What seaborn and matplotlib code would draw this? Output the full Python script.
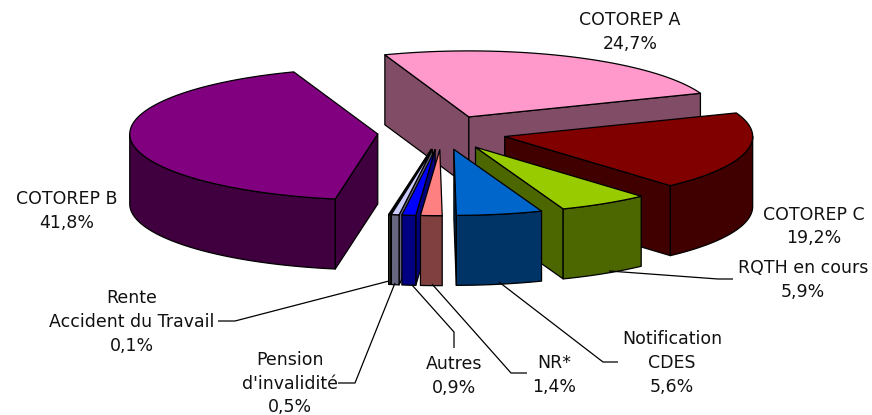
import numpy as np
import matplotlib
matplotlib.use("Agg")
import matplotlib.pyplot as plt
import seaborn as sns

# Data, clockwise from the first slice
categories = ["COTOREP A", "COTOREP C", "RQTH en cours", "Notification\nCDES", "NR*",
              "Autres", "Pension\nd'invalidité", "Rente\nAccident du Travail", "COTOREP B"]
values = [24.7, 19.2, 5.9, 5.6, 1.4, 0.9, 0.5, 0.1, 41.8]
top_colors = ["#FF99CC", "#800000", "#99CC00", "#0066CC", "#FF8080",
              "#0000FF", "#CCCCFF", "#FFFFCC", "#800080"]
side_colors = ["#804C66", "#400000", "#4C6600", "#003366", "#804040",
               "#000080", "#666680", "#808066", "#400040"]
draw_order = [0, 1, 8, 2, 7, 6, 5, 4, 3]

# Pie layout (pixels)
CX, CY = 442, 132.5
A, B = 248, 66
EXPLODE = 0.26
DEPTH = 70
START = -19.8

label_pos = [(630, 32), (814, 226.5), (803, 280), (672, 363), (554, 375),
             (454, 376), (290, 383.5), (132, 322), (67, 211)]
leaders = {
    2: [(609, 271), (718, 279), (733, 279)],
    3: [(499, 282), (603, 362), (618, 362)],
    4: [(432, 284), (511, 373), (527, 373)],
    5: [(412, 285), (454, 332), (454, 348)],
    6: [(395, 283), (355, 383), (338, 383)],
    7: [(389, 281), (235, 321), (218, 321)],
}

sns.set_theme(style="white")
plt.rcParams["font.family"] = ["DejaVu Sans"]

fig = plt.figure(figsize=(8.72, 4.15), dpi=100)
ax = fig.add_axes([0, 0, 1, 1])
ax.set_xlim(0, 872)
ax.set_ylim(415, 0)
ax.axis("off")
sns.despine(ax=ax, left=True, bottom=True)

vals = np.array(values, dtype=float)
edges = START + np.concatenate([[0], np.cumsum(vals)]) * 360.0 / vals.sum()


def rim(ox, oy, deg):
    r = np.radians(deg)
    return ox + A * np.sin(r), oy - B * np.cos(r)


def poly(xs, ys, color):
    ax.fill(xs, ys, facecolor=color, edgecolor="black", lw=0.9, joinstyle="round")


for i in draw_order:
    t0, t1 = edges[i], edges[i + 1]
    mid = np.radians((t0 + t1) / 2)
    ox = CX + EXPLODE * A * np.sin(mid)
    oy = CY - EXPLODE * B * np.cos(mid)
    # radial walls facing the viewer
    if np.sin(np.radians(t0)) < 0:
        x, y = rim(ox, oy, t0)
        poly([ox, x, x, ox], [oy, y, y + DEPTH, oy + DEPTH], side_colors[i])
    if np.sin(np.radians(t1)) > 0:
        x, y = rim(ox, oy, t1)
        poly([ox, x, x, ox], [oy, y, y + DEPTH, oy + DEPTH], side_colors[i])
    # outer wall (front half of the ellipse)
    a0, a1 = max(t0, 90), min(t1, 270)
    if a1 > a0:
        th = np.linspace(a0, a1, 60)
        x, y = rim(ox, oy, th)
        poly(np.r_[x, x[::-1]], np.r_[y, y[::-1] + DEPTH], side_colors[i])
    # top face
    th = np.linspace(t0, t1, 80)
    x, y = rim(ox, oy, th)
    poly(np.r_[ox, x], np.r_[oy, y], top_colors[i])

for i, pts in leaders.items():
    xs, ys = zip(*pts)
    ax.plot(xs, ys, color="black", lw=0.9, solid_capstyle="butt")

for name, v, (x, y) in zip(categories, values, label_pos):
    pct = f"{v:.1f}".replace(".", ",") + "%"
    ax.text(x, y, f"{name}\n{pct}", ha="center", va="center", fontsize=12.5,
            color="#111111", linespacing=1.42, multialignment="center")

fig.savefig("out.png", dpi=100, facecolor="white")
